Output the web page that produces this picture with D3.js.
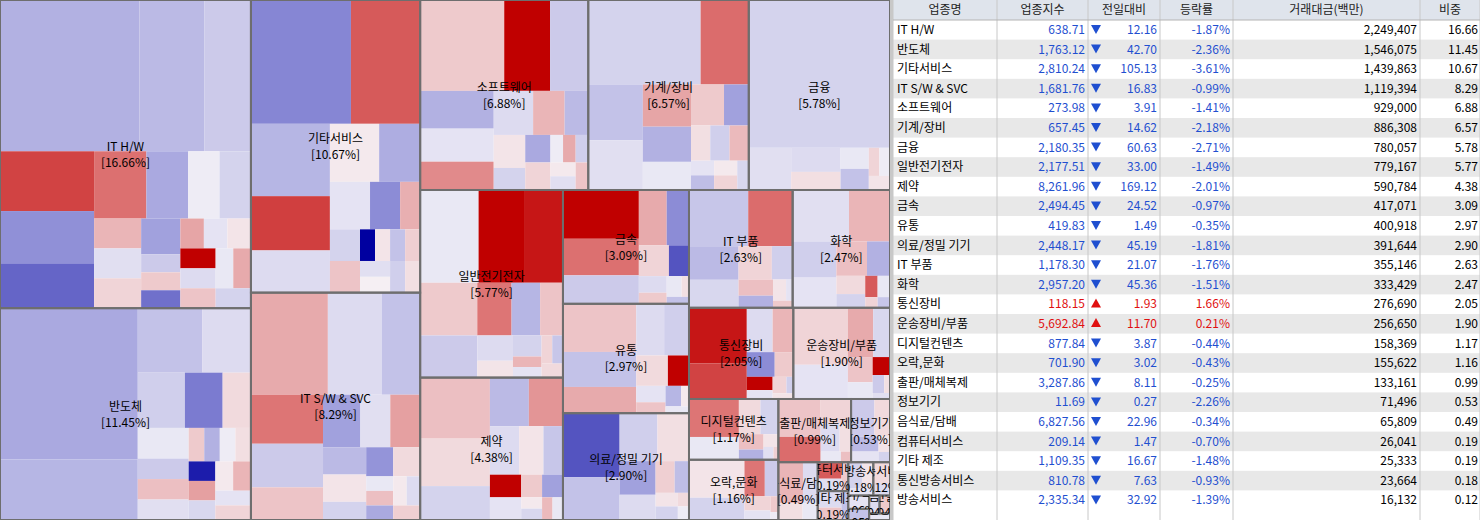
<!DOCTYPE html>
<html><head><meta charset="utf-8">
<script src="https://cdn.jsdelivr.net/npm/d3@7"></script>
<style>body{margin:0;background:#fff;overflow:hidden}svg{display:block}text{font-family:"Noto Sans CJK KR",sans-serif}</style>
</head><body><svg id="c" width="1480" height="520"></svg>
<script>
const names = ['IT H/W','반도체','기타서비스','IT S/W & SVC','소프트웨어','기계/장비','금융','일반전기전자','제약','금속','유통','의료/정밀 기기','IT 부품','화학','통신장비','운송장비/부품','디지털컨텐츠','오락,문화','출판/매체복제','정보기기','음식료/담배','컴퓨터서비스','기타 제조','통신방송서비스','방송서비스']
const indexVals = ['638.71','1,763.12','2,810.24','1,681.76','273.98','657.45','2,180.35','2,177.51','8,261.96','2,494.45','419.83','2,448.17','1,178.30','2,957.20','118.15','5,692.84','877.84','701.90','3,287.86','11.69','6,827.56','209.14','1,109.35','810.78','2,335.34']
const diffs = ['12.16','42.70','105.13','16.83','3.91','14.62','60.63','33.00','169.12','24.52','1.49','45.19','21.07','45.36','1.93','11.70','3.87','3.02','8.11','0.27','22.96','1.47','16.67','7.63','32.92']
const rates = [-1.87,-2.36,-3.61,-0.99,-1.41,-2.18,-2.71,-1.49,-2.01,-0.97,-0.35,-1.81,-1.76,-1.51,1.66,0.21,-0.44,-0.43,-0.25,-2.26,-0.34,-0.70,-1.48,-0.93,-1.39]
const amounts = ['2,249,407','1,546,075','1,439,863','1,119,394','929,000','886,308','780,057','779,167','590,784','417,071','400,918','391,644','355,146','333,429','276,690','256,650','158,369','155,622','133,161','71,496','65,809','26,041','25,333','23,664','16,132']
const shares = [16.66,11.45,10.67,8.29,6.88,6.57,5.78,5.77,4.38,3.09,2.97,2.90,2.63,2.47,2.05,1.90,1.17,1.16,0.99,0.53,0.49,0.19,0.19,0.18,0.12]
// sectors below the visible table rows (map only)
const extraNames = ['종이/목재','섬유/의류','비금속','건설','운송']
const extraShares = [0.06,0.05,0.04,0.04,0.03]
const extraChanges = [-0.4,-1.2,-0.6,0.8,-0.3]
// per-sector stock cells: relative weight and change rate (%)
const stockWeights = [
 [30,14,10,8,7,6,5,4,3,3,2,2,2,2,1,1,1,1,1,1,1,1,1,1,1,1],
 [40,16,8,6,5,4,3,3,2,2,2,1,1,1,1,1,1,1,1,1,1,1],
 [26,18,12,9,7,6,5,4,3,2,2,2,1,1,1,1,1,1,1,1],
 [20,14,10,9,8,6,5,4,4,3,3,2,2,2,1,1,1,1,1,1],
 [22,12,10,8,7,6,5,4,3,3,2,2,2,1,1,1,1,1,1],
 [28,12,9,8,6,5,4,4,3,2,2,2,1,1,1,1,1],
 [70,6,4,3,2,2,1,1,1],
 [18,14,12,10,8,6,5,4,3,2,2,1,1,1,1,1],
 [18,14,10,8,7,6,5,4,3,3,2,2,1,1,1,1],
 [24,18,14,10,8,6,4,3,2,2,1,1],
 [22,16,12,9,8,6,4,3,2,2,1,1],
 [24,16,12,10,8,6,4,3,2,2,1,1],
 [24,18,12,10,8,5,4,3,2,1,1],
 [22,16,12,10,8,6,4,3,2,2,1,1],
 [28,18,10,8,6,4,3,2,2,1,1],
 [30,18,12,8,6,4,3,2,1,1],
 [30,18,12,10,6,4,3,2,1],
 [34,20,12,8,6,4,2,1],
 [30,20,14,10,6,4,2],
 [30,20,14,10,6,4],
 [40,24,16,10],[40,30,20],[40,30,20],[40,30,20],[50,30]
]
const stockChanges = [
 [-1.6,-1.4,-1.0,3.5,-2.4,-3.2,2.5,-1.8,-0.2,-0.8,1.2,-0.5,0.6,-2.0,-1.0,0.8,-3.0,1.5,-0.4,0.3,5,-0.6,0.9,-0.3,1.4,-0.8],
 [-1.8,-1.5,-1.2,-0.6,-0.9,-2.8,0.5,-0.3,-1.0,1.0,-0.5,0.8,-1.6,-0.2,0.4,-4.5,1.6,-0.7,0.2,1.2,-0.4,0.6],
 [-2.6,3.0,-1.5,3.6,-0.6,0.2,-1.7,-0.4,-2.5,1.3,-0.8,0.9,-5,0.3,-1.2,0.7,-0.5,0.1,-0.9,0.4],
 [1.4,-0.6,-1.2,2.4,-1.0,0.9,-2.0,-0.5,1.6,-1.4,0.3,-0.8,-2.3,0.5,-0.3,1.0,-1.8,0.2,-0.6,0.7],
 [0.8,5,-1.0,-1.6,-0.4,2.0,-0.6,1.2,-1.4,0.3,-0.8,-1.8,0.6,-0.2,1.4,-0.9,0.2,-0.5,0.9],
 [-0.8,2.6,-1.2,-0.5,1.5,-1.6,-0.3,0.8,-2.0,0.4,-0.9,1.1,-0.4,-1.3,0.2,0.6,-0.7],
 [-0.8,-0.5,-0.6,0.4,-0.3,-1.2,0.6,-0.2,0.3],
 [-0.3,5,4.5,0.8,-1.0,2.4,-1.5,0.9,-0.6,0.3,-0.8,1.2,-0.4,0.6,-1.1,0.5],
 [1.0,0.5,-0.8,-1.4,1.8,-0.6,0.3,-1.1,5,-0.4,0.8,-2.0,0.2,-0.7,1.1,-0.3],
 [5,2.5,-1.0,1.4,-2.5,0.6,-3.5,-0.6,0.8,-0.3,0.4,-1.2],
 [0.9,-1.2,1.4,-0.6,-0.9,0.5,5,-0.4,0.9,-1.5,0.2,-0.3],
 [-3.5,-1.2,-0.9,0.4,-2.0,-0.6,0.7,-1.3,0.3,-0.8,0.5,-0.2],
 [-1.1,2.6,-1.4,-0.7,0.6,-0.9,1.0,-1.6,0.3,-0.4,0.8],
 [-0.5,1.2,-0.9,-0.4,1.0,-1.6,0.5,-0.8,3,-0.3,0.6,-1.1],
 [4.5,3.5,-0.6,1.2,-2.5,0.8,5,-0.4,0.6,-0.9,0.3],
 [0.6,-0.4,1.4,-0.7,0.9,-0.3,5,-1.0,0.4,-0.5],
 [2.4,-0.3,0.5,-0.8,1.0,-1.6,0.3,-0.5,0.7],
 [0.3,-0.8,2.4,-1.0,0.6,-0.4,0.8,-0.2],
 [0.9,2.6,0.6,-0.6,0.4,-0.3,1.0],
 [-1.0,0.5,-1.4,-0.4,0.3,-0.8],
 [1.2,-0.6,0.4,-0.3],[3.0,-0.5,0.8],[-0.6,0.9,-1.2],[-0.8,0.3,-0.4],[0.5,-0.6]
]

// how the sectors are grouped into strips: 'c' = column on the left, 'r' = row on top
const strips = [['c',2],['c',2],['r',3],['c',2],['c',3],['r',2],['r',2],['c',2],['r',2],['c',1],['c',2]]

const svg = d3.select('#c')
const W = 890, H = 520
const color = d3.scaleLinear().domain([-5,-2.5,0,2.5,5]).range(['#0000a0','#8c8cd6','#f6f4f8','#dc7070','#c00000']).clamp(true)

const allNames = names.concat(extraNames), allShares = shares.concat(extraShares)
const root = d3.hierarchy({children: allNames.map((n,i)=>({name:n, share:allShares[i],
  children: i < names.length ? stockWeights[i].map((w,j)=>({w, ch: stockChanges[i][j]})) : [{w:1, ch: extraChanges[i-names.length]}]}))})
root.children.forEach(s=>{
  const tot = d3.sum(s.children, c=>c.data.w)
  s.children.forEach(c => c.value = c.data.w / tot * s.data.share)
  s.value = s.data.share
})
root.value = d3.sum(allShares)

function stripTile(node, x0, y0, x1, y1) {
  if (node.depth > 0) return d3.treemapSquarify(node, x0, y0, x1, y1)
  const kids = node.children
  let k = 0, rest = node.value
  for (const [o, n] of strips) {
    const grp = kids.slice(k, k + n), v = d3.sum(grp, d=>d.value)
    if (o === 'c') {
      const xm = x0 + (x1 - x0) * v / rest
      d3.treemapSlice({children: grp, value: v}, x0, y0, xm, y1); x0 = xm
    } else {
      const ym = y0 + (y1 - y0) * v / rest
      d3.treemapDice({children: grp, value: v}, x0, y0, x1, ym); y0 = ym
    }
    rest -= v; k += n
  }
  if (k < kids.length) d3.treemapSquarify({children: kids.slice(k), value: rest}, x0, y0, x1, y1)
}
d3.treemap().size([W,H]).tile(stripTile).round(false)(root)

const defs = svg.append('defs')
root.children.forEach((d,i)=>defs.append('clipPath').attr('id','cl'+i).append('rect')
  .attr('x',d.x0).attr('y',d.y0).attr('width',d.x1-d.x0).attr('height',d.y1-d.y0))

const g = svg.append('g')
g.selectAll('rect.st').data(root.leaves()).join('rect')
  .attr('x',d=>d.x0).attr('y',d=>d.y0)
  .attr('width',d=>Math.max(0,d.x1-d.x0)).attr('height',d=>Math.max(0,d.y1-d.y0))
  .attr('fill',d=>color(d.data.ch))
g.selectAll('rect.sec').data(root.children).join('rect')
  .attr('x',d=>d.x0).attr('y',d=>d.y0).attr('width',d=>d.x1-d.x0).attr('height',d=>d.y1-d.y0)
  .attr('fill','none').attr('stroke','#6e6e6e').attr('stroke-width',2)
const lab = g.selectAll('g.lab').data(root.children).join('g')
  .attr('clip-path',(d,i)=>`url(#cl${i})`)
  .append('g')
  .attr('transform',d=>`translate(${(d.x0+d.x1)/2},${(d.y0+d.y1)/2})`)
lab.append('text').attr('text-anchor','middle').attr('y',-3).attr('font-size',12).text(d=>d.data.name)
lab.append('text').attr('text-anchor','middle').attr('y',13).attr('font-size',12).text(d=>`[${d.data.share.toFixed(2)}%]`)

// table
const tx = 893, rowH = 19.6, headH = 20
const cols = [893,997,1088,1160,1233,1420,1480]
const heads = ['업종명','업종지수','전일대비','등락률','거래대금(백만)','비중']
const t = svg.append('g')
t.append('rect').attr('x',890).attr('y',0).attr('width',3).attr('height',H).attr('fill','#c8c8c8')
t.append('rect').attr('x',tx).attr('y',0).attr('width',1480-tx).attr('height',headH).attr('fill','#dfe4ec')
names.forEach((n,i)=>{
  const y = headH + i*rowH
  if (i%2===1) t.append('rect').attr('x',tx).attr('y',y).attr('width',1480-tx).attr('height',rowH).attr('fill','#e8e8e8')
})
cols.forEach(x=>t.append('line').attr('x1',x).attr('x2',x).attr('y1',0).attr('y2',H).attr('stroke','#c8c8c8'))
t.append('line').attr('x1',tx).attr('x2',1480).attr('y1',headH).attr('y2',headH).attr('stroke','#b4b4b4')
heads.forEach((h,k)=>t.append('text').attr('x',(cols[k]+cols[k+1])/2).attr('y',14).attr('text-anchor','middle').attr('font-size',12).attr('fill','#222').text(h))
names.forEach((n,i)=>{
  const y = headH + i*rowH + 14
  const up = rates[i] > 0, c = up ? '#e01010' : '#1f4fd0'
  t.append('text').attr('x',cols[0]+4).attr('y',y).attr('font-size',12).text(n)
  t.append('text').attr('x',cols[2]-3).attr('y',y).attr('text-anchor','end').attr('font-size',12).attr('fill',c).text(indexVals[i])
  const ax = cols[2]+8, ay = y-5
  t.append('path').attr('d', up ? `M${ax-5},${ay+4}L${ax+5},${ay+4}L${ax},${ay-5}Z` : `M${ax-5},${ay-4}L${ax+5},${ay-4}L${ax},${ay+5}Z`).attr('fill',c)
  t.append('text').attr('x',cols[3]-3).attr('y',y).attr('text-anchor','end').attr('font-size',12).attr('fill',c).text(diffs[i])
  t.append('text').attr('x',cols[4]-3).attr('y',y).attr('text-anchor','end').attr('font-size',12).attr('fill',c).text(rates[i].toFixed(2)+'%')
  t.append('text').attr('x',cols[5]-3).attr('y',y).attr('text-anchor','end').attr('font-size',12).text(amounts[i])
  t.append('text').attr('x',1478).attr('y',y).attr('text-anchor','end').attr('font-size',12).text(shares[i].toFixed(2))
})
</script></body></html>
